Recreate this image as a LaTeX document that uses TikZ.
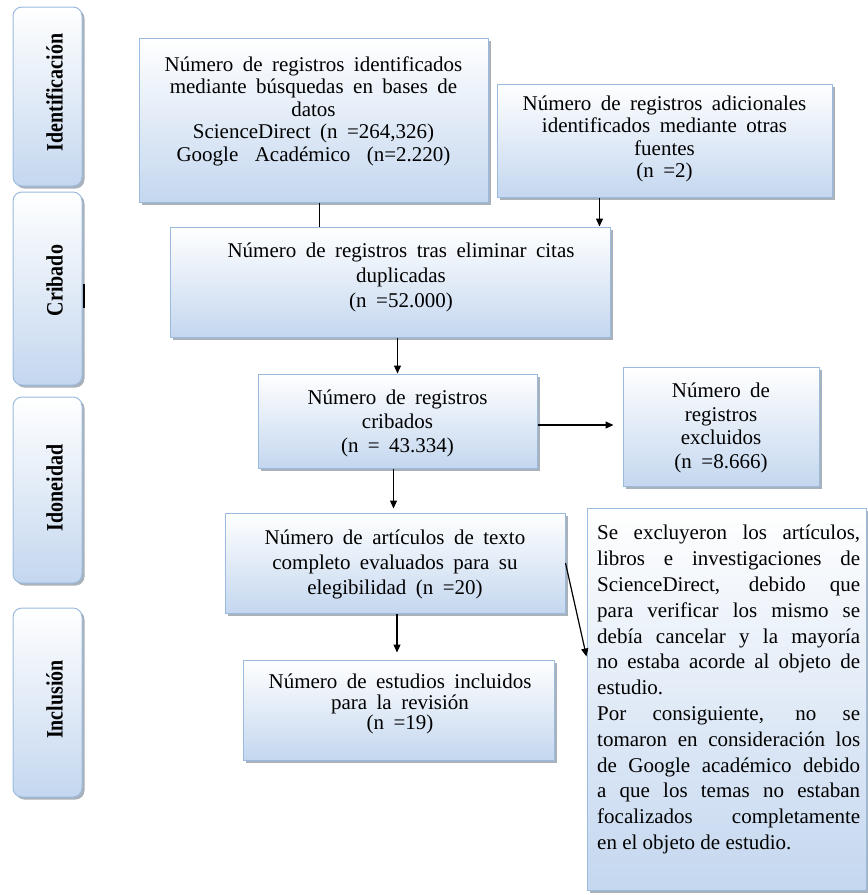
\documentclass[tikz,border=0pt]{standalone}
\usepackage{fontspec}
\setmainfont{Liberation Serif}
\newfontfamily\widefont[WordSpace=1.8]{Liberation Serif}
\newfontfamily\tabfont[FakeStretch=0.85]{Liberation Serif}
\usetikzlibrary{arrows.meta,shadows,calc}

\definecolor{edgeblue}{HTML}{9BBBDE}
\definecolor{fillblue}{HTML}{C4D7EF}
\definecolor{shadowgray}{HTML}{9AA3AE}

\tikzset{
  boxshape/.style={draw=edgeblue, line width=1pt, top color=white, bottom color=fillblue,
    inner sep=0pt, drop shadow={shadow xshift=2.5pt, shadow yshift=-2.5pt, fill=shadowgray, opacity=0.85}},
  tabshape/.style={boxshape, rounded corners=9pt},
  boxtext/.style={align=center, inner sep=0pt, font=\widefont\fontsize{21}{#1}\selectfont},
  boxtext/.default=23,
  tabtext/.style={rotate=90, inner sep=0pt, font=\tabfont\fontsize{23.5}{26}\selectfont\bfseries},
  conn/.style={line width=1.2pt, black},
  arrow/.style={conn, -{Triangle[length=8pt,width=7pt]}},
}

\begin{document}
\begin{tikzpicture}[x=1pt, y=-1pt]
\useasboundingbox (0,0) rectangle (868,895);

% stage tabs on the left
\node[tabshape, minimum width=69pt, minimum height=179pt] (t1) at (47.5,96.5) {};
\node[tabtext] (t1l) at ($(t1.center)+(7,-4)$) {Identificación};
\node[tabshape, minimum width=69pt, minimum height=193pt] (t2) at (47.5,288.5) {};
\node[tabtext] (t2l) at ($(t2.center)+(7,-8)$) {Cribado};
\node[tabshape, minimum width=69pt, minimum height=186pt] (t3) at (47.5,490) {};
\node[tabtext] (t3l) at ($(t3.center)+(7,-2)$) {Idoneidad};
\node[tabshape, minimum width=69pt, minimum height=189pt] (t4) at (47.5,702.5) {};
\node[tabtext] (t4l) at ($(t4.center)+(7,-3)$) {Inclusión};

% small tick beside the Cribado tab
\coordinate (m1) at (84,284);
\coordinate (m2) at (84,308);
\draw[conn] (m1) -- (m2);

% flow boxes
\node[boxshape, minimum width=349pt, minimum height=164pt] (b1) at (313.5,120) {};
\node[boxtext=22.5] (b1t) at (313.5,111) {Número de registros identificados\\mediante búsquedas en bases de\\datos\\ScienceDirect (n =264,326)\\Google\hspace{7pt} Académico\hspace{7pt} (n=2.220)};

\node[boxshape, minimum width=335pt, minimum height=113pt] (b2) at (664.5,140.5) {};
\node[boxtext=22.5] (b2t) at (664.5,139) {Número de registros adicionales\\identificados mediante otras\\fuentes\\(n =2)};

\node[boxshape, minimum width=440pt, minimum height=110pt] (b3) at (390,282) {};
\node[boxtext=25] (b3t) at (401,277) {Número de registros tras eliminar citas\\duplicadas\\(n =52.000)};

\node[boxshape, minimum width=279pt, minimum height=94pt] (b4) at (397.5,421) {};
\node[boxtext=24] (b4t) at (397.5,423) {Número de registros\\cribados\\(n = 43.334)};

\node[boxshape, minimum width=196pt, minimum height=119pt] (b5) at (721,427) {};
\node[boxtext=23.5] (b5t) at (721,428) {Número de\\registros\\excluidos\\(n =8.666)};

\node[boxshape, minimum width=340pt, minimum height=100pt] (b6) at (395,563) {};
\node[boxtext=25] (b6t) at (395,564) {Número de artículos de texto\\completo evaluados para su\\elegibilidad (n =20)};

\node[boxshape, minimum width=311pt, minimum height=100pt] (b7) at (398.5,710) {};
\node[boxtext=20.5] (b7t) at (400,704) {Número de estudios incluidos\\para la revisión\\(n =19)};

\node[boxshape, minimum width=279pt, minimum height=382pt] (b8) at (726.5,699) {};
\node[anchor=north west, text width=263pt, align=justify, inner sep=0pt,
      font=\fontsize{21}{25.8}\selectfont] (b8t) at (597,525)
 {Se excluyeron los artículos,\linebreak libros e investigaciones de\linebreak
  ScienceDirect, debido que\linebreak para verificar los mismo se\linebreak
  debía cancelar y la mayoría\linebreak no estaba acorde al objeto de\linebreak
  estudio.\\ Por consiguiente, no se\linebreak tomaron en consideración los\linebreak
  de Google académico debido\linebreak a que los temas no estaban\linebreak
  focalizados completamente\linebreak en el objeto de estudio.};

% connectors
\path ($(b1.south west)+(181,0)$) coordinate (j1);
\draw[conn] (j1) -- (j1 |- b3.north);

\path ($(b2.south west)+(103,0)$) coordinate (j2);
\draw[arrow] (j2) -- (j2 |- b3.north);

\draw[arrow] (b3.south -| b4.north) -- (b4.north);

\path ($(b4.east)+(0,4)$) coordinate (j3);
\draw[arrow, shorten >=9pt] (j3) -- (j3 -| b5.west);

\path ($(b4.south)+(-4,0)$) coordinate (j4);
\draw[arrow, shorten >=4pt] (j4) -- (j4 |- b6.north);

\path ($(b6.south)+(2,0)$) coordinate (j5);
\draw[arrow, shorten >=7pt] (j5) -- (j5 |- b7.north);

\path ($(b8.north west)+(0,149)$) coordinate (j6);
\draw[arrow] (b6.east) -- (j6);
\end{tikzpicture}
\end{document}
